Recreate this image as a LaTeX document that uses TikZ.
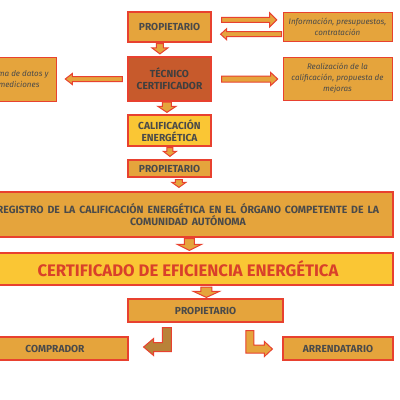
\documentclass[tikz,border=0pt]{standalone}
\usepackage{fontspec}
\setmainfont{Fira Sans}
\usetikzlibrary{calc}
\definecolor{cOr}{HTML}{E5A43C}
\definecolor{cYe}{HTML}{FAC634}
\definecolor{cDk}{HTML}{C75A2C}
\definecolor{cRd}{HTML}{E8412F}
\definecolor{cTx}{HTML}{4A4A4A}
\definecolor{cTi}{HTML}{D9402A}
\definecolor{cBr}{HTML}{B98238}
\newcommand\regfont{\fontsize{10.5}{12.3}\selectfont\bfseries\spaceskip 3.9pt\relax}
\tikzset{
  box/.style={draw=cRd, line width=1.2pt, fill=cOr, inner sep=0pt, align=center,
    text=cTx, font=\fontsize{10.2}{12}\selectfont\bfseries},
  ibox/.style={draw=cRd, line width=0.6pt, fill=cOr, inner sep=0pt, align=center,
    text=cTx, font=\fontsize{8}{11}\selectfont\itshape},
  barr/.style={fill=cOr, draw=cRd, line width=1pt, line join=miter},
}
% right, left, down block arrows: #1 start, #2 tip, #3 shaft half, #4 head half, #5 head length, #6 style
\newcommand\barrR[6]{\path[#6] let \p1=#1,\p2=#2 in
 (\x1,{\y1+#3}) -- ({\x2-#5},{\y1+#3}) -- ({\x2-#5},{\y1+#4}) -- (\x2,\y1) -- ({\x2-#5},{\y1-#4}) -- ({\x2-#5},{\y1-#3}) -- (\x1,{\y1-#3}) -- cycle;}
\newcommand\barrL[6]{\path[#6] let \p1=#1,\p2=#2 in
 (\x1,{\y1+#3}) -- ({\x2+#5},{\y1+#3}) -- ({\x2+#5},{\y1+#4}) -- (\x2,\y1) -- ({\x2+#5},{\y1-#4}) -- ({\x2+#5},{\y1-#3}) -- (\x1,{\y1-#3}) -- cycle;}
\newcommand\barrD[6]{\path[#6] let \p1=#1,\p2=#2 in
 ({\x1-#3},\y1) -- ({\x1-#3},{\y2+#5}) -- ({\x1-#4},{\y2+#5}) -- (\x1,\y2) -- ({\x1+#4},{\y2+#5}) -- ({\x1+#3},{\y2+#5}) -- ({\x1+#3},\y1) -- cycle;}
% bent arrows: down then left / down then right
\newcommand\barrDL[6]{\path[#6] let \p1=#1,\p2=#2 in
 ({\x1-#3},\y1) -- ({\x1+#3},\y1) -- ({\x1+#3},{\y2-#3}) -- ({\x2+#5},{\y2-#3}) -- ({\x2+#5},{\y2-#4}) -- (\x2,\y2) -- ({\x2+#5},{\y2+#4}) -- ({\x2+#5},{\y2+#3}) -- ({\x1-#3},{\y2+#3}) -- cycle;}
\newcommand\barrDR[6]{\path[#6] let \p1=#1,\p2=#2 in
 ({\x1+#3},\y1) -- ({\x1-#3},\y1) -- ({\x1-#3},{\y2-#3}) -- ({\x2-#5},{\y2-#3}) -- ({\x2-#5},{\y2-#4}) -- (\x2,\y2) -- ({\x2-#5},{\y2+#4}) -- ({\x2-#5},{\y2+#3}) -- ({\x1+#3},{\y2+#3}) -- cycle;}
\begin{document}
\begin{tikzpicture}[x=1pt,y=-1pt]
\useasboundingbox (0,0) rectangle (400,400);
\clip (0,0) rectangle (400,400);
\fill[white] (0,0) rectangle (400,400);

\node[box, minimum width=83pt, minimum height=30pt] (prop1) at (169.5,27) {PROPIETARIO};
\node[ibox, minimum width=109pt, minimum height=29pt] (info) at (337.5,26.5) {Información, presupuestos,\\contratación};
\node[box, fill=cDk, text=cTx!85!black, minimum width=83pt, minimum height=44pt] (tec) at (169.5,79) {TÉCNICO\\CERTIFICADOR};
\node[ibox, minimum width=74pt, minimum height=44pt] (toma) at (19,79) {Toma de datos y\\mediciones};
\node[ibox, minimum width=109pt, minimum height=43pt] (real) at (337.5,78.5) {Realización de la\\calificación, propuesta de\\mejoras};
\node[box, fill=cYe, minimum width=83pt, minimum height=31pt] (calif) at (169.5,130.5) {CALIFICACIÓN\\ENERGÉTICA};
\node[box, minimum width=83pt, minimum height=17pt] (prop2) at (169.5,168.5) {PROPIETARIO};
\node[box, minimum width=410pt, minimum height=45pt, font=\regfont] (reg) at (188,214.5) {REGISTRO DE LA CALIFICACIÓN ENERGÉTICA EN EL ÓRGANO COMPETENTE DE LA\\COMUNIDAD AUTÓNOMA};
\node[box, fill=cYe, text=cTi, minimum width=410pt, minimum height=32pt, font=\fontsize{16.7}{19}\selectfont\bfseries] (cert) at (188,269) {CERTIFICADO DE EFICIENCIA ENERGÉTICA};
\node[box, minimum width=155pt, minimum height=23pt] (prop3) at (205.5,310.5) {PROPIETARIO};
\node[box, minimum width=146pt, minimum height=23pt] (comp) at (55,348.5) {COMPRADOR};
\node[box, minimum width=110pt, minimum height=23pt] (arr) at (338,348.5) {ARRENDATARIO};

% horizontal arrows
\coordinate (h1s) at ($(prop1.north east)+(10,8.5)$);
\coordinate (h1e) at ($(info.north west)+(-6,8.5)$);
\barrR{(h1s)}{(h1e)}{2.5pt}{7pt}{7pt}{barr}
\coordinate (h2s) at ($(info.north west)+(-1,22.5)$);
\coordinate (h2e) at ($(prop1.north east)+(9,22.5)$);
\barrL{(h2s)}{(h2e)}{2.5pt}{5.5pt}{6pt}{barr}
\coordinate (h3s) at ($(tec.west)+(-5,0)$);
\coordinate (h3e) at ($(toma.east)+(9,0)$);
\barrL{(h3s)}{(h3e)}{2.5pt}{5.5pt}{7pt}{barr}
\coordinate (h4s) at ($(tec.east)+(10,0)$);
\coordinate (h4e) at ($(real.west)+(-5,0)$);
\barrR{(h4s)}{(h4e)}{3pt}{6.5pt}{7pt}{barr}

% down arrows
\coordinate (d1s) at ($(prop1.south west)+(32.5,1)$);
\coordinate (d1e) at ($(tec.north west)+(32.5,-2.5)$);
\barrD{(d1s)}{(d1e)}{3.5pt}{8pt}{6pt}{barr}
\coordinate (d2s) at ($(tec.south west)+(39.5,0.5)$);
\coordinate (d2e) at ($(calif.north west)+(39.5,-2)$);
\barrD{(d2s)}{(d2e)}{4.5pt}{9pt}{6pt}{barr}
\coordinate (d3s) at ($(calif.south west)+(42.5,1)$);
\coordinate (d3e) at ($(prop2.north west)+(42.5,-3)$);
\barrD{(d3s)}{(d3e)}{3pt}{6.5pt}{5pt}{barr}
\coordinate (d4s) at ($(prop2.south west)+(51.5,2)$);
\coordinate (d4e) at ($(reg.north west)+(197,-4)$);
\barrD{(d4s)}{(d4e)}{3.5pt}{7pt}{5pt}{barr}
\coordinate (d5s) at ($(reg.south west)+(207,1)$);
\coordinate (d5e) at ($(cert.north west)+(207,-2)$);
\barrD{(d5s)}{(d5e)}{5pt}{12pt}{6pt}{barr}
\coordinate (d6s) at ($(cert.south west)+(224,1.5)$);
\coordinate (d6e) at ($(prop3.north west)+(79,-1)$);
\barrD{(d6s)}{(d6e)}{5.5pt}{13pt}{6pt}{barr}

% bent arrows
\coordinate (b1s) at ($(prop3.south west)+(39.5,5)$);
\coordinate (b1e) at ($(comp.east)+(15,-1.5)$);
\barrDL{(b1s)}{(b1e)}{4.5pt}{8.5pt}{10pt}{barr, fill=cBr}
\coordinate (b2s) at ($(prop3.south west)+(122.5,8)$);
\coordinate (b2e) at ($(arr.west)+(-10,0.5)$);
\barrDR{(b2s)}{(b2e)}{4pt}{7.5pt}{8pt}{barr}
\end{tikzpicture}
\end{document}
